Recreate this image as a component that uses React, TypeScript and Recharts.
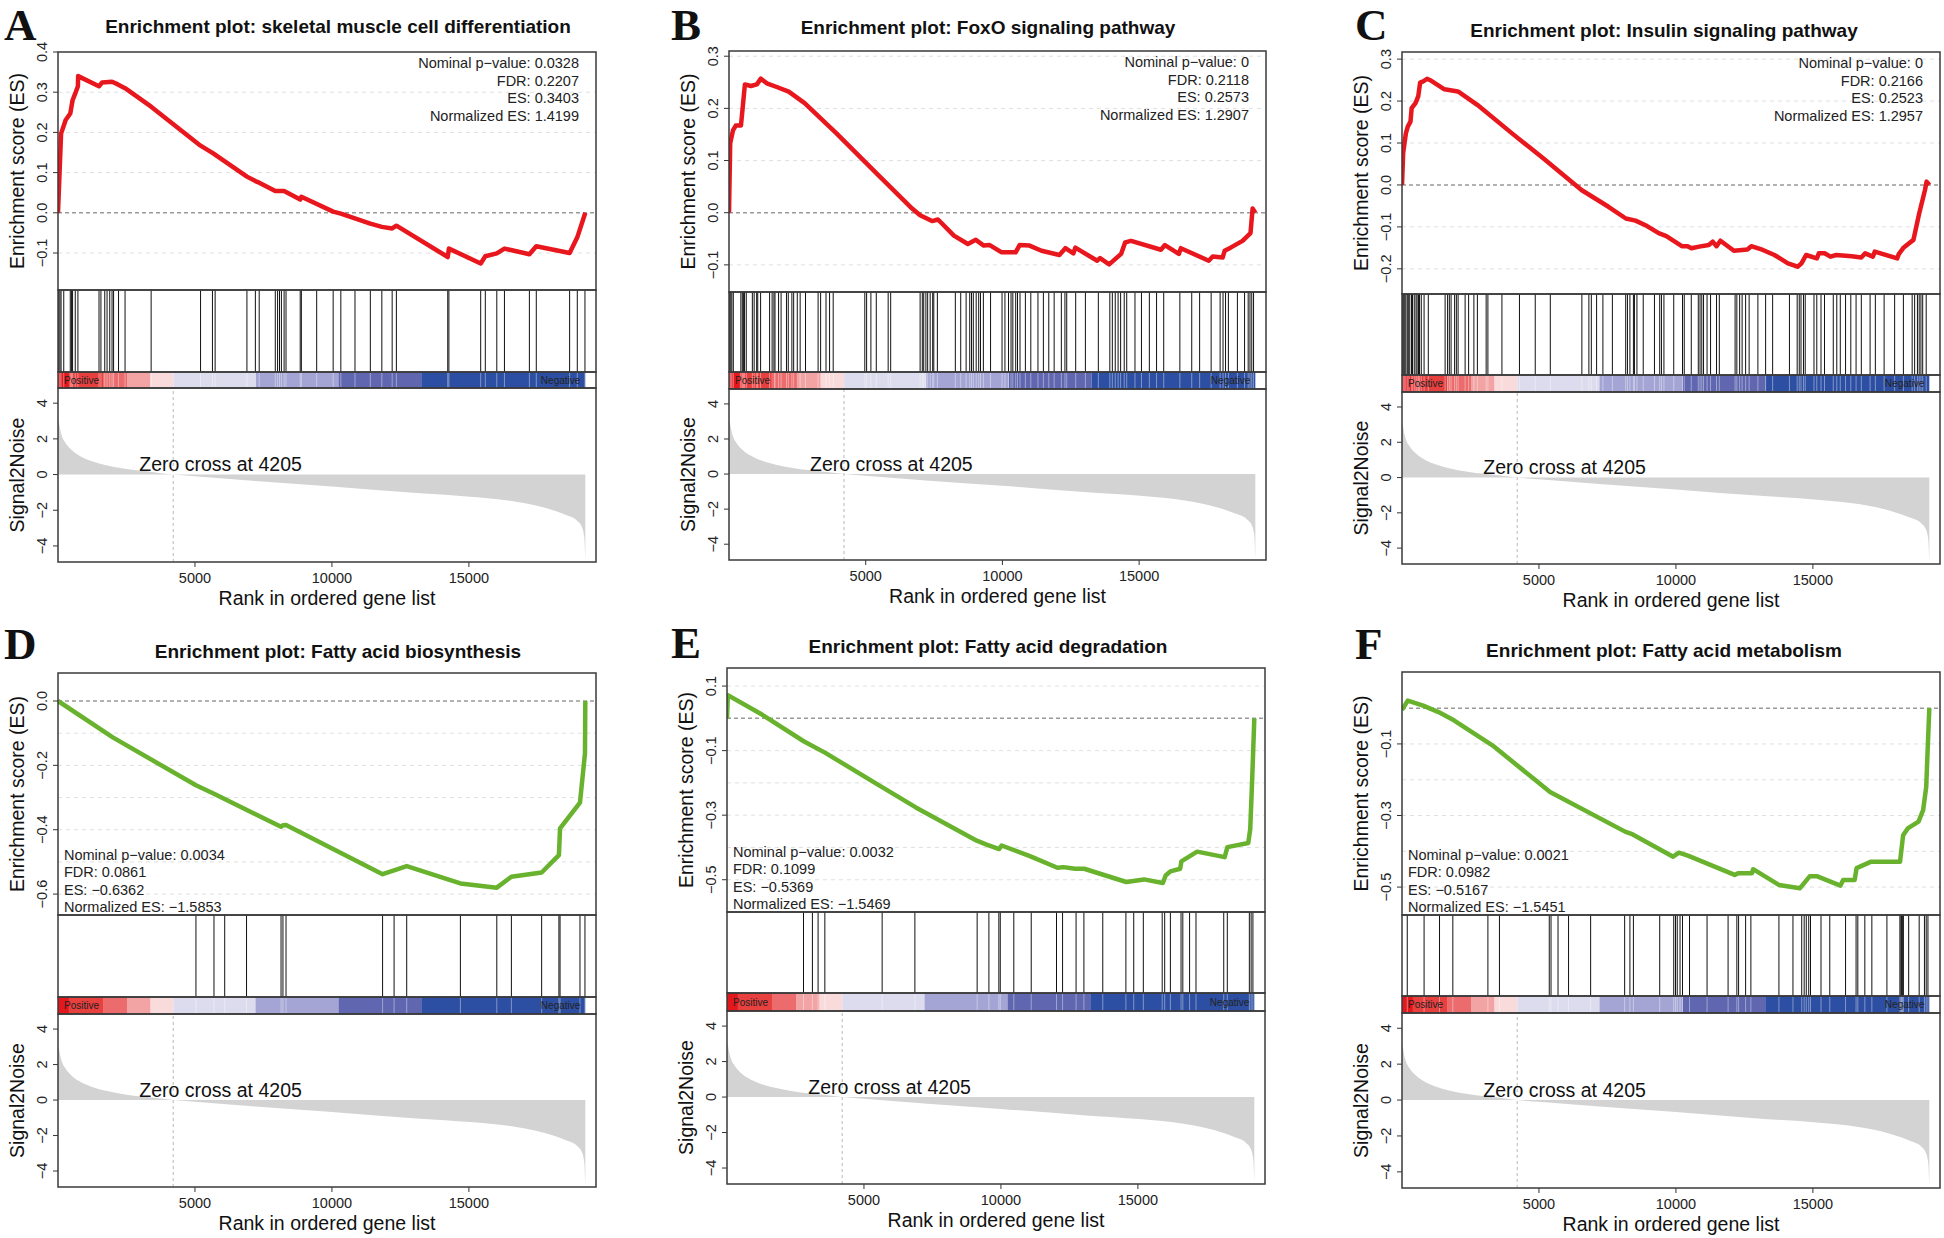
import React from 'react';
import { ComposedChart, Line, Area, XAxis, YAxis, ReferenceLine, ReferenceArea } from 'recharts';

const FONT = '"Liberation Sans", Arial, Helvetica, sans-serif';
const SERIF = '"Liberation Serif", "Times New Roman", serif';
const RED = '#e8171d';
const GREEN = '#68b22e';
const X_MAX = 19640;
const LIST_END = 19250;
const ZERO_CROSS = 4205;
const AXIS_W = 60;
const PAD = 20;
const NO_MARGIN = { top: 0, right: 0, bottom: 0, left: 0 };
const PAD_MARGIN = { top: PAD, right: 0, bottom: PAD, left: 0 };

// ranked list metric (signal2noise), shared by all panels
const METRIC_RANK = [0, 30, 70, 140, 280, 490, 770, 1190, 1750, 2450, 3430, 4205, 5110, 7200, 10000, 13220, 15040, 16720, 17840, 18540, 18960, 19120, 19210, 19250];
const METRIC_VALUE = [3.05, 2.95, 2.6, 2.17, 1.76, 1.39, 1.07, 0.77, 0.52, 0.32, 0.15, 0, -0.11, -0.36, -0.67, -1.05, -1.24, -1.52, -1.89, -2.27, -2.6, -2.92, -3.48, -4.75];

// colour bar bands
const BAND_EDGES = [0, 400, 1670, 2520, 3380, 4210, 7210, 10240, 13260, LIST_END];
const BAND_COLORS = ['#e4171d', '#e8403f', '#ec6b6c', '#f2a3a4', '#fadbdc', '#dcdcee', '#a4a5d4', '#6067b0', '#2d4fa3'];

// running enrichment scores [rank, ES]
const ES_A = [[0, 0], [112, 0.197], [280, 0.231], [448, 0.247], [532, 0.28], [630, 0.297], [727, 0.315], [735, 0.34], [1497, 0.315], [1610, 0.324], [1973, 0.326], [2168, 0.32], [2448, 0.31], [3400, 0.264], [5204, 0.167], [5666, 0.148], [6897, 0.09], [7205, 0.079], [7345, 0.075], [7932, 0.054], [8254, 0.054], [8842, 0.033], [8884, 0.04], [10045, 0.003], [10325, -0.002], [11402, -0.027], [11822, -0.035], [12199, -0.039], [12353, -0.032], [14228, -0.11], [14270, -0.089], [15431, -0.126], [15599, -0.108], [16019, -0.101], [16298, -0.089], [17208, -0.103], [17460, -0.083], [18677, -0.1], [18957, -0.061], [19250, 0]];
const ES_B = [[0, 0], [44, 0.133], [146, 0.158], [247, 0.167], [437, 0.167], [582, 0.246], [801, 0.243], [1019, 0.246], [1165, 0.257], [1383, 0.248], [1747, 0.241], [2184, 0.232], [2766, 0.21], [3931, 0.152], [5387, 0.076], [6697, 0.008], [6989, -0.005], [7426, -0.016], [7644, -0.013], [8226, -0.044], [8736, -0.06], [9027, -0.052], [9318, -0.063], [9536, -0.062], [9973, -0.076], [10483, -0.076], [10628, -0.062], [10992, -0.063], [11429, -0.073], [12084, -0.081], [12302, -0.068], [12594, -0.078], [12666, -0.067], [13467, -0.092], [13569, -0.087], [13904, -0.099], [14341, -0.079], [14487, -0.057], [14705, -0.054], [15797, -0.071], [15943, -0.062], [16452, -0.079], [16525, -0.068], [17545, -0.092], [17690, -0.084], [18054, -0.086], [18127, -0.073], [18345, -0.067], [18782, -0.054], [19073, -0.039], [19150, 0.008], [19250, 0]];
const ES_C = [[0, 0], [42, 0.076], [141, 0.123], [211, 0.139], [310, 0.151], [352, 0.183], [493, 0.195], [592, 0.211], [662, 0.244], [775, 0.247], [916, 0.253], [1057, 0.249], [1550, 0.228], [2043, 0.223], [2748, 0.191], [4016, 0.123], [5143, 0.064], [6552, -0.012], [7538, -0.052], [8172, -0.08], [8524, -0.085], [8947, -0.098], [9369, -0.115], [9651, -0.122], [10215, -0.146], [10426, -0.146], [10567, -0.151], [10849, -0.147], [11201, -0.143], [11342, -0.135], [11483, -0.146], [11624, -0.133], [12117, -0.157], [12610, -0.154], [12751, -0.146], [13174, -0.155], [13596, -0.167], [14089, -0.187], [14442, -0.195], [14583, -0.187], [14752, -0.167], [15146, -0.175], [15217, -0.163], [15428, -0.163], [15640, -0.171], [15851, -0.167], [16415, -0.17], [16767, -0.173], [16908, -0.163], [17190, -0.171], [17260, -0.159], [18077, -0.175], [18134, -0.165], [18317, -0.149], [18669, -0.131], [18880, -0.068], [19092, -0.012], [19150, 0.008], [19250, 0]];
const ES_D = [[0, 0], [2000, -0.113], [5036, -0.262], [5694, -0.288], [8142, -0.391], [8212, -0.386], [8324, -0.385], [11849, -0.538], [12269, -0.526], [12730, -0.513], [14690, -0.567], [16019, -0.58], [16551, -0.546], [17656, -0.533], [18286, -0.479], [18328, -0.396], [19055, -0.316], [19237, -0.163], [19250, 0]];
const ES_E = [[0, 0], [30, 0.072], [1292, 0.011], [2800, -0.071], [3590, -0.107], [5600, -0.21], [6893, -0.276], [9119, -0.379], [9478, -0.391], [9937, -0.405], [10024, -0.394], [11058, -0.427], [12063, -0.463], [12279, -0.461], [12710, -0.466], [13040, -0.466], [14577, -0.507], [15223, -0.499], [15912, -0.51], [16013, -0.487], [16185, -0.474], [16544, -0.466], [16587, -0.443], [17162, -0.413], [18167, -0.43], [18268, -0.399], [19029, -0.386], [19101, -0.343], [19172, -0.189], [19250, 0]];
const ES_F = [[0, -0.005], [211, 0.021], [772, 0.007], [1334, -0.011], [1895, -0.034], [3299, -0.104], [5405, -0.234], [8143, -0.345], [8424, -0.353], [9898, -0.415], [10108, -0.404], [10459, -0.413], [12144, -0.466], [12284, -0.461], [12776, -0.461], [12818, -0.45], [13759, -0.494], [14531, -0.503], [14882, -0.47], [15163, -0.47], [16005, -0.496], [16104, -0.48], [16525, -0.48], [16595, -0.447], [17128, -0.429], [18181, -0.429], [18294, -0.355], [18462, -0.336], [18856, -0.317], [19024, -0.285], [19137, -0.22], [19165, -0.164], [19250, 0]];

// positions of gene set members in the ranked list
const HITS_A = [28, 70, 112, 210, 448, 490, 532, 630, 727, 1497, 1567, 1707, 1791, 1889, 1973, 2029, 2210, 2448, 3400, 5204, 5638, 5736, 6897, 7205, 7345, 7932, 8016, 8086, 8156, 8254, 8324, 8842, 8884, 9443, 10045, 10325, 10842, 11402, 11822, 12199, 12353, 14228, 14270, 15431, 15599, 16019, 16298, 17208, 17460, 18677, 18957, 19237];
const HITS_B = [26, 66, 105, 158, 434, 486, 526, 565, 631, 854, 920, 1012, 1051, 1156, 1485, 1577, 1643, 1682, 1813, 1905, 2102, 2168, 2300, 2365, 2497, 2602, 2799, 3259, 3351, 3548, 3679, 3811, 4967, 5033, 5190, 5387, 5821, 5913, 6990, 7070, 7122, 7201, 7266, 7358, 7450, 7490, 7621, 8278, 8475, 8672, 8804, 8870, 8935, 9040, 9132, 9198, 9303, 9566, 9986, 10092, 10223, 10315, 10381, 10486, 10552, 10643, 10840, 11038, 11300, 11498, 11695, 11892, 12155, 12286, 12352, 12680, 13035, 13508, 13928, 14020, 14126, 14231, 14323, 14454, 14546, 14848, 15085, 15374, 15637, 15899, 16490, 16924, 17213, 17634, 17962, 18068, 18160, 18265, 18594, 18856, 18988, 19054, 19119, 19185];
const HITS_C = [26, 64, 102, 141, 192, 230, 282, 346, 384, 448, 512, 550, 602, 640, 704, 806, 960, 1574, 1664, 1728, 1792, 1920, 1984, 2048, 2304, 2432, 2624, 2752, 3072, 3136, 3648, 4288, 4864, 5414, 6566, 6822, 6912, 7104, 7334, 7680, 8166, 8230, 8320, 8448, 8486, 8576, 8806, 9216, 9408, 9472, 9562, 9920, 10240, 10304, 10560, 10816, 10880, 10944, 11008, 11136, 11264, 11482, 11584, 12160, 12224, 12326, 12416, 12544, 12672, 12992, 13274, 13530, 14144, 14426, 14502, 14566, 14656, 14720, 15040, 15142, 15296, 15424, 15744, 15872, 16000, 16192, 16384, 16576, 16768, 17088, 17280, 17600, 17984, 18304, 18624, 18714, 18816, 18880, 18944, 19008, 19136];
const HITS_D = [5036, 5694, 6086, 6883, 8142, 8212, 8324, 11849, 12269, 12730, 14690, 16019, 16551, 17656, 18286, 18328, 19055, 19237];
const HITS_E = [2793, 3118, 3325, 3572, 5664, 6859, 9132, 9561, 9924, 9976, 10470, 11106, 12029, 12250, 12743, 13029, 13718, 14562, 14848, 15198, 15887, 15978, 16186, 16575, 16640, 16887, 17121, 18134, 18264, 19069, 19134, 19199];
const HITS_F = [192, 806, 1370, 1856, 3136, 3558, 5376, 5440, 5696, 6080, 6886, 8128, 8320, 8448, 9408, 9920, 9984, 10048, 10150, 10240, 10496, 11136, 11904, 12224, 12288, 12544, 12736, 13760, 14272, 14592, 14682, 14758, 14848, 14912, 15296, 15616, 16192, 16576, 16640, 16896, 17152, 17702, 18176, 18214, 18240, 18266, 18304, 18496, 18880, 19072, 19136, 19200];

const STATS_A = ['Nominal p\u2212value: 0.0328', 'FDR: 0.2207', 'ES: 0.3403', 'Normalized ES: 1.4199'];
const STATS_B = ['Nominal p\u2212value: 0', 'FDR: 0.2118', 'ES: 0.2573', 'Normalized ES: 1.2907'];
const STATS_C = ['Nominal p\u2212value: 0', 'FDR: 0.2166', 'ES: 0.2523', 'Normalized ES: 1.2957'];
const STATS_D = ['Nominal p\u2212value: 0.0034', 'FDR: 0.0861', 'ES: \u22120.6362', 'Normalized ES: \u22121.5853'];
const STATS_E = ['Nominal p\u2212value: 0.0032', 'FDR: 0.1099', 'ES: \u22120.5369', 'Normalized ES: \u22121.5469'];
const STATS_F = ['Nominal p\u2212value: 0.0021', 'FDR: 0.0982', 'ES: \u22120.5167', 'Normalized ES: \u22121.5451'];

type Panel = {
  letter: string; title: string; color: string;
  left: number; right: number;
  esTop: number; hitTop: number; barTop: number; s2nTop: number; bottom: number;
  titleX: number; titleY: number; letterX: number; letterY: number;
  es: number[][]; hits: number[];
  domain: [number, number]; ticks: number[]; grid: number[];
  stats: string[]; statsPos: 'tr' | 'bl';
};

const PANELS: Panel[] = [
  { letter: 'A', title: 'Enrichment plot: skeletal muscle cell differentiation', color: RED, left: 58, right: 596, esTop: 52, hitTop: 290, barTop: 372, s2nTop: 388, bottom: 562, titleX: 338, titleY: 33, letterX: 4, letterY: 40, es: ES_A, hits: HITS_A, domain: [-0.192, 0.4], ticks: [-0.1, 0, 0.1, 0.2, 0.3, 0.4], grid: [-0.1, 0.1, 0.2, 0.3], stats: STATS_A, statsPos: 'tr' },
  { letter: 'B', title: 'Enrichment plot: FoxO signaling pathway', color: RED, left: 729, right: 1266, esTop: 51, hitTop: 292, barTop: 372, s2nTop: 389, bottom: 560, titleX: 988, titleY: 34, letterX: 671, letterY: 40, es: ES_B, hits: HITS_B, domain: [-0.152, 0.31], ticks: [-0.1, 0, 0.1, 0.2, 0.3], grid: [-0.1, 0.1, 0.2, 0.3], stats: STATS_B, statsPos: 'tr' },
  { letter: 'C', title: 'Enrichment plot: Insulin signaling pathway', color: RED, left: 1402, right: 1940, esTop: 52, hitTop: 294, barTop: 375, s2nTop: 392, bottom: 564, titleX: 1664, titleY: 37, letterX: 1355, letterY: 40, es: ES_C, hits: HITS_C, domain: [-0.26, 0.317], ticks: [-0.2, -0.1, 0, 0.1, 0.2, 0.3], grid: [-0.2, -0.1, 0.1, 0.2, 0.3], stats: STATS_C, statsPos: 'tr' },
  { letter: 'D', title: 'Enrichment plot: Fatty acid biosynthesis', color: GREEN, left: 58, right: 596, esTop: 673, hitTop: 915, barTop: 997, s2nTop: 1014, bottom: 1187, titleX: 338, titleY: 658, letterX: 4, letterY: 659, es: ES_D, hits: HITS_D, domain: [-0.665, 0.087], ticks: [-0.6, -0.4, -0.2, 0], grid: [-0.6, -0.5, -0.4, -0.3, -0.2, -0.1], stats: STATS_D, statsPos: 'bl' },
  { letter: 'E', title: 'Enrichment plot: Fatty acid degradation', color: GREEN, left: 727, right: 1265, esTop: 668, hitTop: 912, barTop: 993, s2nTop: 1011, bottom: 1184, titleX: 988, titleY: 653, letterX: 671, letterY: 658, es: ES_E, hits: HITS_E, domain: [-0.6, 0.156], ticks: [-0.5, -0.3, -0.1, 0.1], grid: [-0.5, -0.4, -0.3, -0.2, -0.1, 0.1], stats: STATS_E, statsPos: 'bl' },
  { letter: 'F', title: 'Enrichment plot: Fatty acid metabolism', color: GREEN, left: 1402, right: 1940, esTop: 672, hitTop: 915, barTop: 996, s2nTop: 1013, bottom: 1188, titleX: 1664, titleY: 657, letterX: 1355, letterY: 659, es: ES_F, hits: HITS_F, domain: [-0.578, 0.101], ticks: [-0.5, -0.3, -0.1], grid: [-0.5, -0.4, -0.3, -0.2, -0.1], stats: STATS_F, statsPos: 'bl' },
];

const S2N_DOMAIN: [number, number] = [-4.9, 4.85];

const minus = (s: string) => s.replace('-', '\u2212');
const fmtES = (v: number) => minus(v.toFixed(1));
const fmtInt = (v: number) => minus(String(v));

function rotatedTick(fmt: (v: number) => string) {
  return (props: any) => {
    const { x, y, payload } = props;
    return (
      <text transform={`translate(${x - 11},${y}) rotate(-90)`} textAnchor="middle" dy="0.35em"
        fontSize={14.5} fontFamily={FONT} fill="#222">
        {fmt(payload.value)}
      </text>
    );
  };
}

const metricData = METRIC_RANK.map((x, i) => ({ x, y: METRIC_VALUE[i] }));

// a strip of vertical lines (hit marks) drawn through the x scale
function HitLine(props: any) {
  const { cx, top, height, stroke, opacity } = props;
  return <line x1={cx} x2={cx} y1={top} y2={top + height} stroke={stroke} strokeOpacity={opacity} strokeWidth={1} />;
}

function PanelCharts({ p }: { p: Panel }) {
  const w = p.right - p.left;
  const esData = p.es.map(([x, y]) => ({ x, y }));
  const hitData = p.hits.map((x) => ({ x, y: 0.5 }));
  const hitH = p.barTop - p.hitTop;
  const barH = p.s2nTop - p.barTop;
  return (
    <>
      <div style={{ position: 'absolute', left: p.left - AXIS_W, top: p.esTop - PAD }}>
        <ComposedChart width={w + AXIS_W} height={p.hitTop - p.esTop + 2 * PAD} data={esData} margin={PAD_MARGIN}>
          <XAxis type="number" dataKey="x" domain={[0, X_MAX]} allowDataOverflow hide />
          <YAxis type="number" domain={p.domain} allowDataOverflow ticks={p.ticks} interval={0}
            width={AXIS_W} axisLine={false} tickSize={5} tickMargin={0}
            tickLine={{ stroke: '#333' }} tick={rotatedTick(fmtES)} />
          {p.grid.map((g) => (
            <ReferenceLine key={g} y={g} stroke="#e0e0e0" strokeDasharray="4 4" />
          ))}
          <ReferenceLine y={0} stroke="#999" strokeDasharray="4 3" strokeWidth={1.5} />
          <Line type="linear" dataKey="y" stroke={p.color} strokeWidth={4.5} dot={false}
            strokeLinejoin="round" isAnimationActive={false} />
        </ComposedChart>
      </div>
      <div style={{ position: 'absolute', left: p.left, top: p.hitTop }}>
        <ComposedChart width={w} height={hitH} data={hitData} margin={NO_MARGIN}>
          <XAxis type="number" dataKey="x" domain={[0, X_MAX]} allowDataOverflow hide />
          <YAxis type="number" domain={[0, 1]} hide />
          <Line type="linear" dataKey="y" stroke="none" isAnimationActive={false}
            dot={(d: any) => <HitLine key={d.index} cx={d.cx} top={0} height={hitH} stroke="#111" opacity={1} />} />
        </ComposedChart>
      </div>
      <div style={{ position: 'absolute', left: p.left, top: p.barTop }}>
        <ComposedChart width={w} height={barH} data={hitData} margin={NO_MARGIN}>
          <XAxis type="number" dataKey="x" domain={[0, X_MAX]} allowDataOverflow hide />
          <YAxis type="number" domain={[0, 1]} hide />
          {BAND_COLORS.map((c, i) => (
            <ReferenceArea key={c} x1={BAND_EDGES[i]} x2={BAND_EDGES[i + 1]} y1={0} y2={1}
              fill={c} fillOpacity={1} stroke="none" />
          ))}
          <Line type="linear" dataKey="y" stroke="none" isAnimationActive={false}
            dot={(d: any) => <HitLine key={d.index} cx={d.cx} top={0} height={barH} stroke="#ffffff" opacity={0.4} />} />
        </ComposedChart>
      </div>
      <div style={{ position: 'absolute', left: p.left - AXIS_W, top: p.s2nTop - PAD }}>
        <ComposedChart width={w + AXIS_W} height={p.bottom - p.s2nTop + 30 + PAD} data={metricData}
          margin={{ top: PAD, right: 0, bottom: 0, left: 0 }}>
          <XAxis type="number" dataKey="x" domain={[0, X_MAX]} allowDataOverflow ticks={[5000, 10000, 15000]}
            interval={0} axisLine={false} tickSize={5} tickMargin={6} height={30}
            tickLine={{ stroke: '#333' }} tick={{ fontSize: 14.5, fill: '#222', fontFamily: FONT }} />
          <YAxis type="number" domain={S2N_DOMAIN} allowDataOverflow ticks={[-4, -2, 0, 2, 4]} interval={0}
            width={AXIS_W} axisLine={false} tickSize={5} tickMargin={0}
            tickLine={{ stroke: '#333' }} tick={rotatedTick(fmtInt)} />
          <Area type="monotone" dataKey="y" baseValue={0} stroke="none" fill="#d3d3d3" fillOpacity={1}
            isAnimationActive={false} />
          <ReferenceLine x={ZERO_CROSS} stroke="#b8b8b8" strokeDasharray="3 3" />
        </ComposedChart>
      </div>
    </>
  );
}

function PanelOverlay({ p }: { p: Panel }) {
  const w = p.right - p.left;
  const cx = (p.left + p.right) / 2;
  const s2nH = p.bottom - p.s2nTop;
  const zeroY = p.s2nTop + (S2N_DOMAIN[1] / (S2N_DOMAIN[1] - S2N_DOMAIN[0])) * s2nH;
  const listEndX = p.left + (LIST_END / X_MAX) * w;
  const barMid = (p.barTop + p.s2nTop) / 2;
  const border = { fill: 'none', stroke: '#3a3a3a', strokeWidth: 1.5 };
  return (
    <g fontFamily={FONT}>
      <text x={p.letterX} y={p.letterY} fontFamily={SERIF} fontWeight="bold" fontSize={45} fill="#111">{p.letter}</text>
      <text x={p.titleX} y={p.titleY} textAnchor="middle" fontWeight="bold" fontSize={19} fill="#111">{p.title}</text>
      <rect x={p.left} y={p.esTop} width={w} height={p.hitTop - p.esTop} {...border} />
      <rect x={p.left} y={p.hitTop} width={w} height={p.barTop - p.hitTop} {...border} />
      <rect x={p.left} y={p.barTop} width={w} height={p.s2nTop - p.barTop} {...border} />
      <rect x={p.left} y={p.s2nTop} width={w} height={s2nH} {...border} />
      <text transform={`translate(${p.left - 41},${(p.esTop + p.hitTop) / 2}) rotate(-90)`} textAnchor="middle"
        dy="0.35em" fontSize={19.5} fill="#111">Enrichment score (ES)</text>
      <text transform={`translate(${p.left - 41},${(p.s2nTop + p.bottom) / 2}) rotate(-90)`} textAnchor="middle"
        dy="0.35em" fontSize={19.5} fill="#111">Signal2Noise</text>
      <text x={cx} y={p.bottom + 43} textAnchor="middle" fontSize={19.5} fill="#111">Rank in ordered gene list</text>
      <text x={p.left + (2966 / X_MAX) * w} y={zeroY - 3.5} fontSize={19.5} fill="#111">Zero cross at {ZERO_CROSS}</text>
      <text x={p.left + 6} y={barMid + 3.5} fontSize={10} fill="#222">Positive</text>
      <text x={listEndX - 5} y={barMid + 3.5} textAnchor="end" fontSize={10} fill="#222">Negative</text>
      {p.stats.map((s, i) =>
        p.statsPos === 'tr' ? (
          <text key={i} x={p.right - 17} y={p.esTop + 16 + i * 17.5} textAnchor="end" fontSize={14.5} fill="#222">{s}</text>
        ) : (
          <text key={i} x={p.left + 6} y={p.hitTop - 3 - (3 - i) * 17.5} fontSize={14.5} fill="#222">{s}</text>
        )
      )}
    </g>
  );
}

export default function App() {
  return (
    <div style={{ position: 'absolute', left: 0, top: 0, width: 1944, height: 1238, background: '#fff', overflow: 'hidden' }}>
      {PANELS.map((p) => (
        <PanelCharts key={p.letter} p={p} />
      ))}
      <svg width={1944} height={1238} style={{ position: 'absolute', left: 0, top: 0, pointerEvents: 'none' }}>
        {PANELS.map((p) => (
          <PanelOverlay key={p.letter} p={p} />
        ))}
      </svg>
    </div>
  );
}
